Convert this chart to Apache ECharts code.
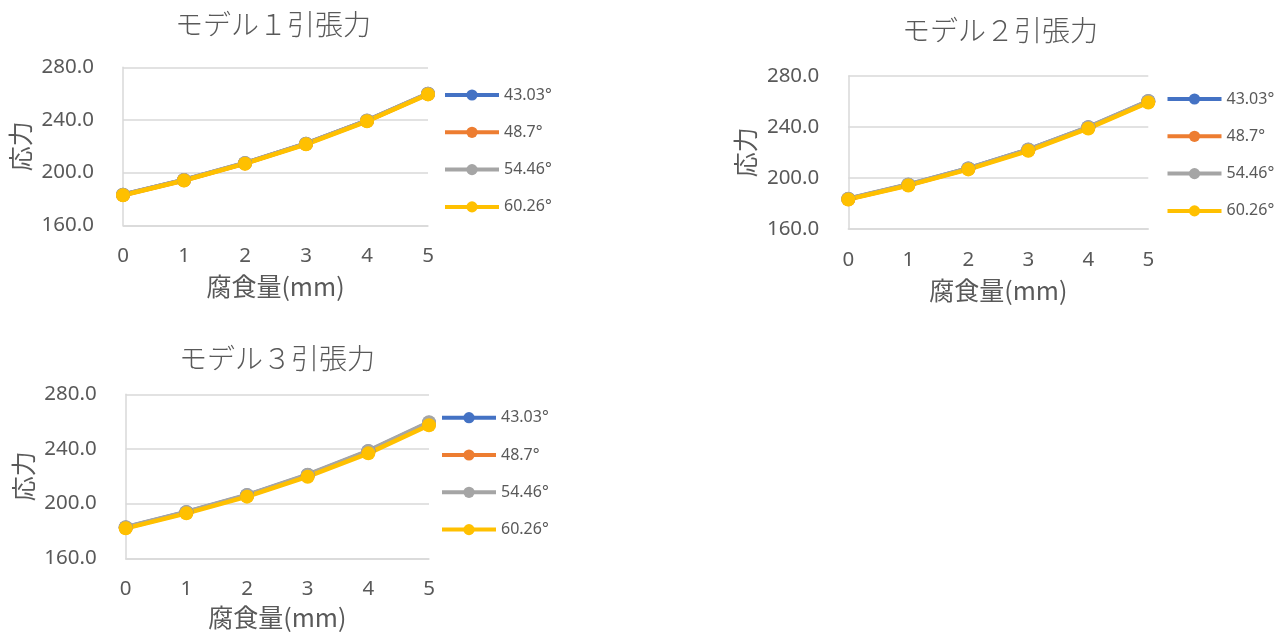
<!DOCTYPE html>
<html>
<head>
<meta charset="utf-8">
<script src="https://cdn.jsdelivr.net/npm/echarts@6/dist/echarts.min.js"></script>
<style>
  html, body { margin: 0; padding: 0; background: #fff; }
  #chart { width: 1283px; height: 637px; }
</style>
</head>
<body>
<div id="chart"></div>
<script>
// Corrosion amount (mm) on the x axis
const categories = ['0', '1', '2', '3', '4', '5'];
// Series names (angle)
const angles = ['43.03°', '48.7°', '54.46°', '60.26°'];
// Y axis ticks
const yTicks = [160, 200, 240, 280];

// Model 1 tensile stress per angle
const model1_43 = [183.2, 194.4, 207.2, 222.0, 239.5, 259.9];
const model1_48 = [183.0, 194.2, 207.0, 221.8, 239.3, 259.7];
const model1_54 = [183.2, 194.5, 207.3, 222.0, 239.6, 260.0];
const model1_60 = [182.8, 194.0, 206.8, 221.5, 239.0, 259.4];

// Model 2 tensile stress per angle
const model2_43 = [183.4, 194.6, 207.3, 222.1, 239.7, 260.2];
const model2_48 = [183.2, 194.3, 207.0, 221.7, 239.3, 259.7];
const model2_54 = [183.5, 194.7, 207.4, 222.2, 239.8, 260.3];
const model2_60 = [183.0, 194.0, 206.6, 221.2, 238.8, 259.2];

// Model 3 tensile stress per angle
const model3_43 = [182.5, 193.7, 206.1, 220.9, 238.3, 259.1];
const model3_48 = [182.3, 193.4, 205.7, 220.4, 237.7, 258.3];
const model3_54 = [182.7, 193.9, 206.3, 221.2, 238.6, 259.5];
const model3_60 = [181.9, 192.9, 205.1, 219.7, 236.8, 257.3];

const colors = ['#4472C4', '#ED7D31', '#A5A5A5', '#FFC000'];
const textColor = '#595959';
const gridColor = '#D9D9D9';
const numFont = "'Noto Sans', 'Noto Sans CJK JP', sans-serif";
const cjkFont = "'Noto Sans CJK JP', 'Noto Sans', sans-serif";

const panels = [
  { title: 'モデル１引張力', data: [model1_43, model1_48, model1_54, model1_60],
    grid: { left: 123, top: 67.3, width: 305, height: 158 },
    titlePos: [273, 24], legendPos: [443, 87], xNameGap: 49 },
  { title: 'モデル２引張力', data: [model2_43, model2_48, model2_54, model2_60],
    grid: { left: 848.3, top: 76, width: 300, height: 152.7 },
    titlePos: [1000, 30], legendPos: [1165.5, 91], xNameGap: 49 },
  { title: 'モデル３引張力', data: [model3_43, model3_48, model3_54, model3_60],
    grid: { left: 125.7, top: 394.3, width: 303.3, height: 164 },
    titlePos: [277, 358], legendPos: [440, 409.7], xNameGap: 47 }
];

const option = {
  animation: false,
  backgroundColor: '#ffffff',
  grid: [], xAxis: [], yAxis: [], series: [], legend: [], graphic: []
};

panels.forEach((p, i) => {
  option.grid.push(Object.assign({ containLabel: false }, p.grid));
  option.xAxis.push({
    type: 'category', gridIndex: i, data: categories, boundaryGap: false,
    name: '腐食量(mm)', nameLocation: 'middle', nameGap: p.xNameGap,
    nameTextStyle: { color: textColor, fontSize: 25, fontFamily: cjkFont },
    axisLine: { lineStyle: { color: gridColor, width: 1.5 } },
    axisTick: { show: false },
    axisLabel: { color: textColor, fontSize: 20.5, fontFamily: numFont, margin: 21 },
    splitLine: { show: false }
  });
  option.yAxis.push({
    type: 'value', gridIndex: i, min: yTicks[0], max: yTicks[yTicks.length - 1], interval: 40,
    name: '応力', nameLocation: 'middle', nameGap: 90,
    nameTextStyle: { color: textColor, fontSize: 25, fontFamily: cjkFont },
    axisLine: { show: true, lineStyle: { color: gridColor, width: 1.5 } },
    axisTick: { show: false },
    axisLabel: { color: textColor, fontSize: 20.5, fontFamily: numFont, margin: 29,
      formatter: v => v.toFixed(1) },
    splitLine: { lineStyle: { color: gridColor, width: 1.5 } }
  });
  angles.forEach((name, k) => {
    option.series.push({
      type: 'line', name: name, xAxisIndex: i, yAxisIndex: i,
      data: p.data[k], symbol: 'circle', symbolSize: 14, showSymbol: true,
      lineStyle: { color: colors[k], width: 4.5 },
      itemStyle: { color: colors[k], borderWidth: 0 },
      emphasis: { disabled: true }
    });
  });
  option.legend.push({
    orient: 'vertical', left: p.legendPos[0], top: p.legendPos[1],
    data: angles, itemWidth: 54, itemHeight: 14, itemGap: 21.3,
    selectedMode: false, padding: 0,
    lineStyle: { width: 4 },
    textStyle: { color: textColor, fontSize: 16, fontFamily: numFont }
  });
  option.graphic.push({
    type: 'text', x: p.titlePos[0], y: p.titlePos[1], silent: true,
    style: { text: p.title, align: 'center', verticalAlign: 'middle',
      fill: textColor, fontSize: 28, fontFamily: cjkFont, fontWeight: 300 }
  });
});

const chart = echarts.init(document.getElementById('chart'), null, { renderer: 'canvas' });
chart.setOption(option);
</script>
</body>
</html>
